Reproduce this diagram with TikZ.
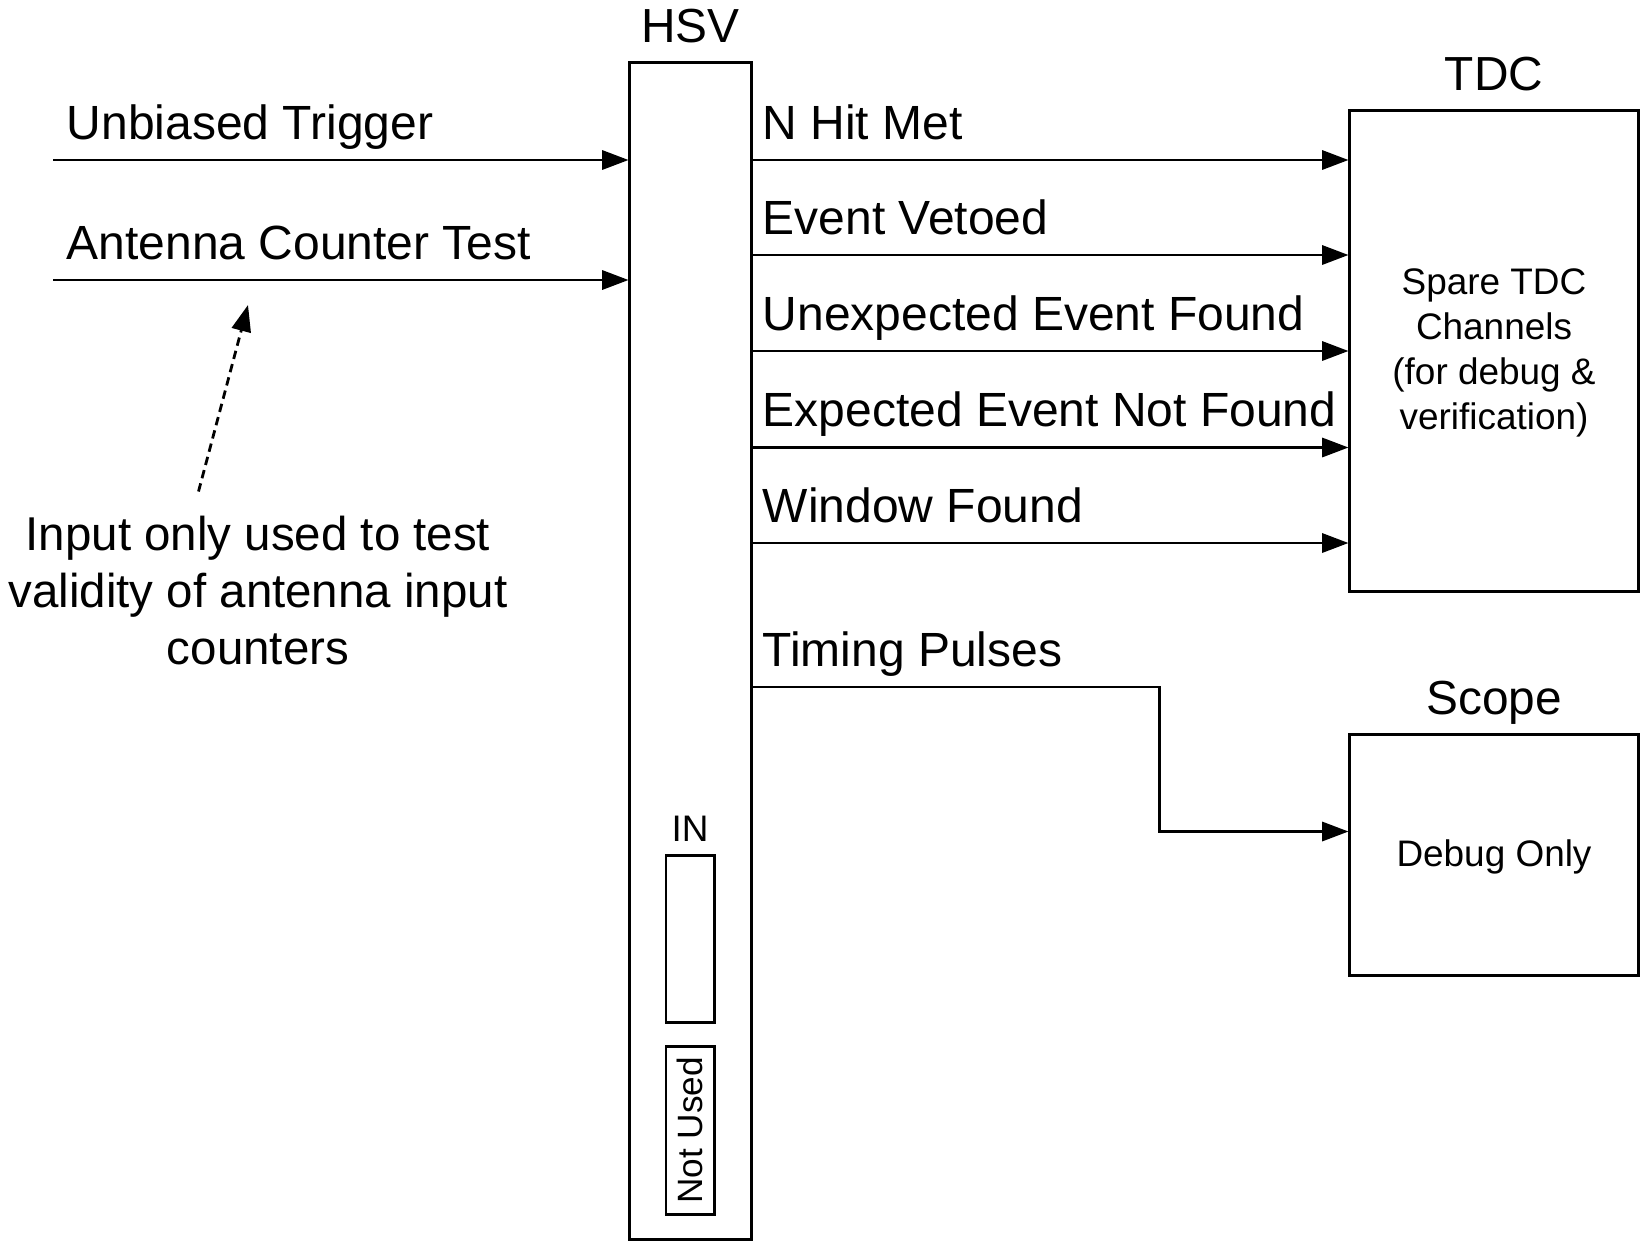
\documentclass[tikz,border=0pt]{standalone}
\usepackage{fontspec}
\setmainfont{Liberation Sans}
\usetikzlibrary{arrows.meta,positioning}

\tikzset{
  blk/.style={draw,line width=0.85pt,inner sep=0pt},
  sig/.style={line width=0.65pt,-{Triangle[length=7.5pt,width=5.5pt]}},
  lbl/.style={inner sep=0pt,anchor=base west,font=\fontsize{13.65}{16.2}\selectfont},
  ttl/.style={inner sep=0pt,anchor=base,font=\fontsize{13.6}{16.2}\selectfont},
  small/.style={inner sep=0pt,align=center,font=\fontsize{10.5}{12.8}\selectfont}
}

\begin{document}
\begin{tikzpicture}[x=0.01cm,y=-0.01cm]
  \useasboundingbox (0,0) rectangle (1640,1242);
  % HSV board
  \node[blk,minimum width=1.21cm,minimum height=11.76cm] (hsv) at (690.5,651) {};
  \node[ttl] (hsvlbl) at (690.5,42.5) {HSV};
  \node[blk,minimum width=0.48cm,minimum height=1.665cm] (inbox) at (690,939) {};
  \node[small,anchor=base] (inlbl) at (690,841.5) {IN};
  \node[blk,minimum width=0.48cm,minimum height=1.67cm] (nubox) at (690,1130.5) {};
  \node[small,rotate=90,font=\fontsize{10}{12}\selectfont] (nulbl) at (nubox.center) {Not Used};
  % TDC and scope
  \node[blk,minimum width=2.88cm,minimum height=4.80cm] (tdc) at (1494,351) {};
  \node[ttl] (tdclbl) at (1494,90) {TDC};
  \node[small] (tdctxt) at (1494,353) {Spare TDC\\Channels\\(for debug \&\\verification)};
  \node[blk,minimum width=2.88cm,minimum height=2.40cm] (scope) at (1494,855) {};
  \node[ttl] (scopelbl) at (1494,714) {Scope};
  \node[small] (scopetxt) at ([yshift=-0.02cm]scope.center) {Debug Only};
  % inputs
  \coordinate (ut) at (53,160);
  \coordinate (act) at (53,280);
  \draw[sig] (ut) -- (ut -| hsv.west);
  \draw[sig] (act) -- (act -| hsv.west);
  \node[lbl] (utlbl) at (66,139) {Unbiased Trigger};
  \node[lbl] (actlbl) at (66,259) {Antenna Counter Test};
  % note
  \node[ttl,align=center,font=\fontsize{13.5}{16.2}\selectfont] (note) at (258,664) {Input only used to test\\validity of antenna input\\counters};
  \coordinate (notetail) at (198.5,491.5);
  \coordinate (notetip) at (248,305);
  \draw[sig,line width=0.8pt,dash pattern=on 2.4pt off 1.5pt] (notetail) -- (notetip);
  % outputs to TDC
  \foreach \y/\txt [count=\i] in {160/N Hit Met,255/Event Vetoed,351/Unexpected Event Found,447.5/Expected Event Not Found,543/Window Found}{
    \coordinate (r\i) at (0,\y);
    \draw[sig] (hsv.east |- r\i) -- (tdc.west |- r\i);
    \node[lbl] (olbl\i) at (762,\y-21) {\txt};
  }
  % timing pulses to scope
  \coordinate (rtp) at (0,687);
  \coordinate (rsc) at (0,831.5);
  \draw[sig] (hsv.east |- rtp) -- ++(407,0) |- (scope.west |- rsc);
  \node[lbl] (tplbl) at (762,666) {Timing Pulses};
\end{tikzpicture}
\end{document}
